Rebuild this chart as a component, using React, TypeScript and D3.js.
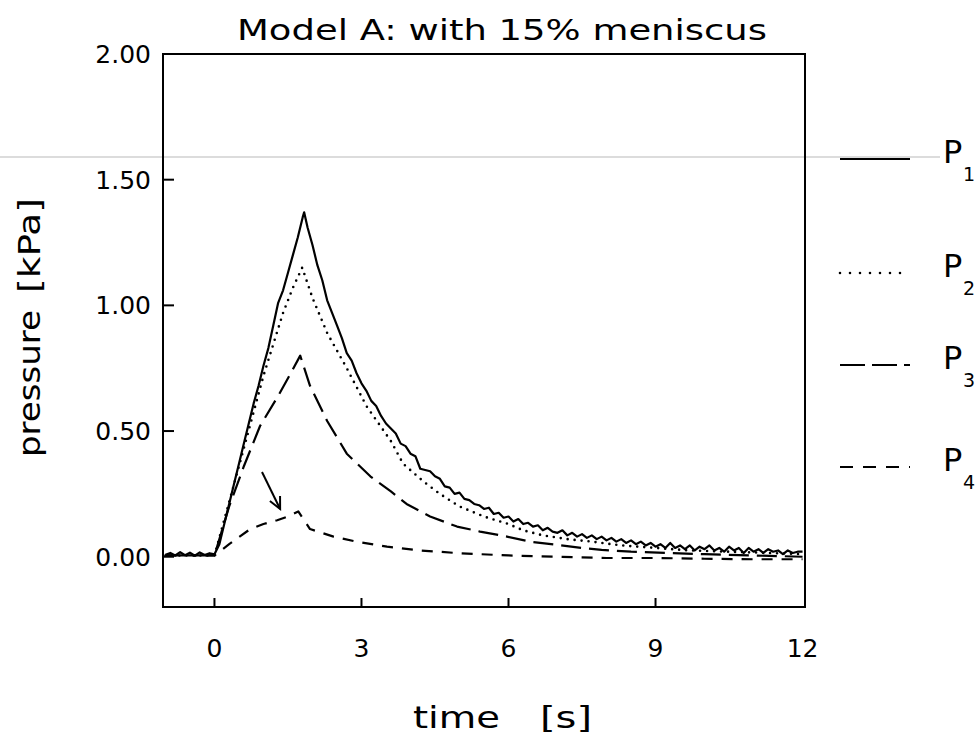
import React from "react";
import * as d3 from "d3";

// ---- data ----
const p1T = [-1.0,-0.9,-0.8,-0.7,-0.6,-0.5,-0.4,-0.3,-0.2,-0.1,0.0,
  0.1,0.2,0.3,0.4,0.5,0.6,0.7,0.8,0.9,1.0,1.1,1.2,1.3,1.4,1.5,1.6,1.7,1.8,1.83,
  1.9,2.0,2.1,2.2,2.3,2.4,2.5,2.6,2.7,2.8,2.9,3.0,3.1,3.2,3.3,3.4,3.5,3.6,3.7,3.8,3.9,
  4.0,4.1,4.2,4.3,4.4,4.5,4.6,4.7,4.8,4.9,5.0,5.1,5.2,5.3,5.4,5.5,5.6,5.7,5.8,5.9,
  6.0,6.1,6.2,6.3,6.4,6.5,6.6,6.7,6.8,6.9,7.0,7.1,7.2,7.3,7.4,7.5,7.6,7.7,7.8,7.9,
  8.0,8.1,8.2,8.3,8.4,8.5,8.6,8.7,8.8,8.9,9.0,9.1,9.2,9.3,9.4,9.5,9.6,9.7,9.8,9.9,
  10.0,10.1,10.2,10.3,10.4,10.5,10.6,10.7,10.8,10.9,11.0,11.1,11.2,11.3,11.4,11.5,11.6,11.7,11.8,11.9,12.0];
const p1V = [0.008,0.015,0.005,0.018,0.006,0.016,0.004,0.017,0.007,0.014,0.01,
  0.05,0.13,0.21,0.29,0.37,0.45,0.53,0.61,0.68,0.76,0.83,0.92,1.01,1.06,1.13,1.2,1.27,1.35,1.37,
  1.31,1.24,1.16,1.1,1.02,0.97,0.92,0.87,0.81,0.78,0.73,0.69,0.66,0.62,0.6,0.56,0.53,0.51,0.49,0.45,0.44,
  0.41,0.4,0.35,0.345,0.34,0.32,0.31,0.28,0.275,0.25,0.255,0.23,0.225,0.21,0.205,0.19,0.195,0.17,0.175,0.155,
  0.16,0.14,0.15,0.13,0.135,0.12,0.125,0.105,0.115,0.1,0.095,0.105,0.085,0.095,0.08,0.09,0.075,0.085,0.07,0.08,
  0.065,0.075,0.06,0.07,0.055,0.065,0.05,0.06,0.045,0.055,0.04,0.05,0.035,0.055,0.035,0.045,0.03,0.045,0.025,0.04,
  0.03,0.045,0.025,0.035,0.02,0.04,0.025,0.035,0.015,0.035,0.02,0.03,0.015,0.03,0.02,0.025,0.01,0.025,0.015,0.02,0.02];

const p2T = [-1.0,0.0,0.5,1.0,1.4,1.6,1.79,2.0,2.3,2.7,3.1,3.6,3.85,4.26,4.6,5.0,5.5,6.0,6.3,6.7,7.2,7.7,8.3,9.0,9.7,10.5,11.3,12.0];
const p2V = [0.005,0.005,0.36,0.72,0.97,1.07,1.15,1.03,0.89,0.75,0.6,0.46,0.37,0.3,0.25,0.2,0.16,0.13,0.105,0.085,0.07,0.06,0.045,0.035,0.025,0.02,0.015,0.01];

const p3T = [-1.0,0.0,0.3,0.6,0.93,1.3,1.5,1.75,1.95,2.3,2.7,3.18,3.6,3.92,4.4,4.95,5.42,5.97,6.44,7.0,7.5,7.9,8.5,9.2,10.0,11.0,12.0];
const p3V = [0.005,0.005,0.2,0.36,0.52,0.64,0.71,0.8,0.68,0.54,0.41,0.32,0.26,0.21,0.16,0.12,0.1,0.08,0.06,0.047,0.035,0.027,0.02,0.015,0.01,0.005,0.0];

const p4T = [-1.0,0.0,0.3,0.73,1.0,1.28,1.5,1.71,1.95,2.43,2.9,3.52,4.2,5.0,6.0,7.0,8.0,9.0,10.0,11.0,12.0];
const p4V = [0.005,0.005,0.05,0.11,0.13,0.145,0.16,0.18,0.11,0.08,0.06,0.04,0.025,0.014,0.005,0.0,-0.005,-0.005,-0.008,-0.01,-0.01];

const xTicks = [0, 3, 6, 9, 12];
const yTicks = [0, 0.5, 1.0, 1.5, 2.0];
const arrowFrom = [0.97, 0.337];
const arrowTo = [1.34, 0.19];

const seriesNames = ["1", "2", "3", "4"];
const titleText = "Model A: with 15% meniscus";

export default function App() {
  const left = 163, right = 805, top = 54, bottom = 607;
  const x = d3.scaleLinear().domain([-1.05, 12.05]).range([left, right]);
  const y = d3.scaleLinear().domain([-0.2, 2.0]).range([bottom, top]);
  const line = d3.line<[number, number]>().x(d => x(d[0])).y(d => y(d[1]));
  const zip = (t: number[], v: number[]) => t.map((tt, i) => [tt, v[i]] as [number, number]);

  const series = [
    { d: zip(p1T, p1V), dash: undefined, w: 2.2, cap: "butt" },
    { d: zip(p2T, p2V), dash: "0,7", w: 2.6, cap: "round" },
    { d: zip(p3T, p3V), dash: "20,8", w: 2.2, cap: "butt" },
    { d: zip(p4T, p4V), dash: "11,9", w: 2.2, cap: "butt" },
  ];
  const legendY = [159, 273, 365, 467];
  const legendDash = [undefined, "0,10", "25,7", "13,10"];
  const font = "'DejaVu Sans', 'Liberation Sans', sans-serif";

  // arrow geometry
  const ax0 = x(arrowFrom[0]), ay0 = y(arrowFrom[1]);
  const ax1 = x(arrowTo[0]), ay1 = y(arrowTo[1]);
  const ang = Math.atan2(ay1 - ay0, ax1 - ax0);
  const hl = 13, ha = 0.45;
  const h1 = [ax1 - hl * Math.cos(ang - ha), ay1 - hl * Math.sin(ang - ha)];
  const h2 = [ax1 - hl * Math.cos(ang + ha), ay1 - hl * Math.sin(ang + ha)];

  return (
    <svg width={979} height={737} style={{ position: "absolute", left: 0, top: 0, background: "#fff" }}
      fontFamily={font}>
      <rect width={979} height={737} fill="#fff" />
      {/* scan artifact line */}
      <line x1={0} x2={940} y1={157} y2={157} stroke="#d0d0d0" strokeWidth={1.5} />
      {/* title */}
      <text x={237} y={40} fontSize={29} textLength={530} lengthAdjust="spacingAndGlyphs">{titleText}</text>
      {/* frame */}
      <rect x={left} y={top} width={right - left} height={bottom - top} fill="none" stroke="#000" strokeWidth={2} />
      {/* y ticks */}
      {yTicks.map(v => (
        <g key={v}>
          {v < 2 && <line x1={left} x2={left + 11} y1={y(v)} y2={y(v)} stroke="#000" strokeWidth={2} />}
          <text x={151} y={y(v) + 9} textAnchor="end" fontSize={25}>{v.toFixed(2)}</text>
        </g>
      ))}
      {/* x ticks */}
      {xTicks.map(v => (
        <g key={v}>
          {v < 12 && <line x1={x(v)} x2={x(v)} y1={bottom} y2={bottom - 9} stroke="#000" strokeWidth={2} />}
          <text x={x(v)} y={657} textAnchor="middle" fontSize={25}>{v}</text>
        </g>
      ))}
      {/* axis labels */}
      <text x={413} y={728} fontSize={30} textLength={87} lengthAdjust="spacingAndGlyphs">time</text>
      <text x={540} y={728} fontSize={30} textLength={52} lengthAdjust="spacingAndGlyphs">[s]</text>
      <g transform="translate(40,0) rotate(-90)">
        <text x={-457} y={0} fontSize={30} textLength={147} lengthAdjust="spacingAndGlyphs">pressure</text>
        <text x={-293} y={0} fontSize={30} textLength={95} lengthAdjust="spacingAndGlyphs">[kPa]</text>
      </g>
      {/* curves */}
      {series.map((s, i) => (
        <path key={i} d={line(s.d) || ""} fill="none" stroke="#000" strokeWidth={s.w}
          strokeDasharray={s.dash} strokeLinecap={s.cap as any} strokeLinejoin="round" />
      ))}
      {/* arrow */}
      <line x1={ax0} y1={ay0} x2={ax1} y2={ay1} stroke="#000" strokeWidth={2} />
      <polyline points={`${h1[0]},${h1[1]} ${ax1},${ay1} ${h2[0]},${h2[1]}`} fill="none" stroke="#000" strokeWidth={2} />
      {/* legend */}
      {seriesNames.map((n, i) => (
        <g key={n}>
          <line x1={840} x2={910} y1={legendY[i]} y2={legendY[i]} stroke="#000"
            strokeWidth={i === 1 ? 2.6 : 2.2} strokeDasharray={legendDash[i]}
            strokeLinecap={i === 1 ? "round" : "butt"} />
          <text x={943} y={legendY[i] + 4} fontSize={32}>P</text>
          <text x={963} y={legendY[i] + 22} fontSize={19}>{n}</text>
        </g>
      ))}
    </svg>
  );
}
